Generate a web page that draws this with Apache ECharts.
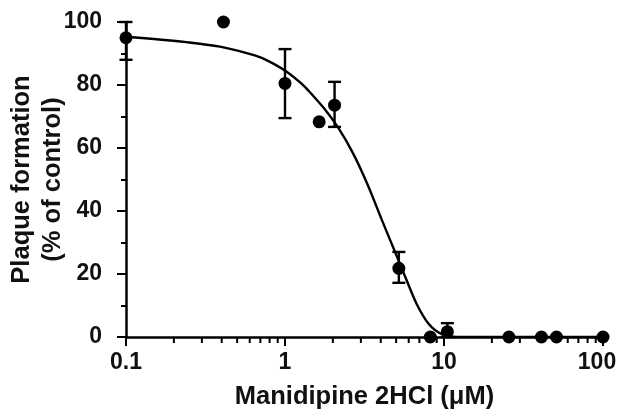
<!DOCTYPE html>
<html>
<head>
<meta charset="utf-8">
<script src="https://cdn.jsdelivr.net/npm/echarts@6/dist/echarts.min.js"></script>
<style>
  html, body { margin: 0; padding: 0; background: #fff; }
  #chart { width: 619px; height: 416px; }
</style>
</head>
<body>
<div id="chart"></div>
<script>
// measured points (concentration in uM, % of control)
const doseX = [0.1, 0.41, 1, 1.64, 2.05, 5.2, 8.2, 10.5, 25.6, 41, 51, 100]
const plaqueY = [95, 100, 80.5, 68.3, 73.6, 21.8, 0, 1.7, 0, 0, 0, 0]

// error bars: only points that have one
const errX = [0.1, 1, 2.05, 5.2, 10.5]
const errLow = [88, 69.5, 66.7, 17.2, 0]
const errHigh = [100, 91.4, 81, 27, 4.4]

// fitted curve
const fitX = [0.1, 0.15, 0.24, 0.39, 0.53, 0.68, 0.85, 1.04, 1.26, 1.4, 1.76, 2.17, 2.66, 3.3, 4.04, 4.83, 5.82, 6.73, 8, 9.6, 12, 100]
const fitY = [95.3, 94.6, 93.6, 92.2, 90.6, 89, 86.7, 84, 80.6, 78.3, 72.6, 66.3, 58.6, 48.5, 37.5, 28, 18, 10.5, 4.2, 1, 0, 0]

// log minor ticks between the decades
const minorTicksX = [0.2, 0.3, 0.4, 0.5, 0.6, 0.7, 0.8, 0.9, 2, 3, 4, 5, 6, 7, 8, 9, 20, 30, 40, 50, 60, 70, 80, 90]

const font = 'Liberation Sans, Arial, sans-serif'

let chartInstance = echarts.init(document.getElementById('chart'))

const option = {
  backgroundColor: '#fff',
  animation: false,
  grid: {
    left: 126,
    right: 16,
    top: 22,
    bottom: 79,
    containLabel: false,
    outerBoundsMode: 'none'
  },
  xAxis: {
    type: 'log',
    logBase: 10,
    min: 0.1,
    max: 100,
    name: 'Manidipine 2HCl (μM)',
    nameLocation: 'middle',
    nameGap: 47,
    nameTextStyle: {
      fontFamily: font,
      fontWeight: 'bold',
      fontSize: 25.5,
      color: '#111'
    },
    axisLine: {
      onZero: false,
      lineStyle: {color: '#000', width: 2.5}
    },
    axisTick: {
      length: 9,
      lineStyle: {color: '#000', width: 2}
    },
    axisLabel: {
      margin: 14,
      fontFamily: font,
      fontWeight: 'bold',
      fontSize: 23,
      color: '#111',
      // last label sits a bit left so it is not cut by the edge
      formatter: v => v === 100 ? '{r|100}' : String(v),
      rich: {
        r: {
          fontFamily: font,
          fontWeight: 'bold',
          fontSize: 23,
          color: '#111',
          padding: [0, 12, 0, 0]
        }
      }
    },
    splitLine: {show: false}
  },
  yAxis: {
    type: 'value',
    min: 0,
    max: 100,
    interval: 20,
    name: 'Plaque formation\n(% of control)',
    nameLocation: 'middle',
    nameGap: 58,
    nameMoveOverlap: false,
    nameTextStyle: {
      fontFamily: font,
      fontWeight: 'bold',
      fontSize: 25.5,
      lineHeight: 31,
      color: '#111'
    },
    axisLine: {
      show: true,
      onZero: false,
      lineStyle: {color: '#000', width: 2.5}
    },
    axisTick: {
      show: true,
      length: 9,
      lineStyle: {color: '#000', width: 2}
    },
    minorTick: {
      show: true,
      splitNumber: 2,
      length: 5,
      lineStyle: {color: '#000', width: 2}
    },
    axisLabel: {
      margin: 24,
      fontFamily: font,
      fontWeight: 'bold',
      fontSize: 23,
      color: '#111'
    },
    splitLine: {show: false}
  },
  series: [
    {
      // short ticks under the x axis at 2..9 of every decade
      name: 'minorTicks',
      type: 'custom',
      clip: false,
      silent: true,
      data: minorTicksX.map(x => [x, 0]),
      renderItem: (params, api) => {
        const p = api.coord([api.value(0), api.value(1)])
        return {
          type: 'line',
          shape: {x1: p[0], y1: p[1], x2: p[0], y2: p[1] + 6},
          style: {stroke: '#000', lineWidth: 2}
        }
      },
      z: 1
    },
    {
      name: 'fit',
      type: 'line',
      smooth: 0.3,
      symbol: 'none',
      lineStyle: {color: '#000', width: 2.4},
      data: fitX.map((x, i) => [x, fitY[i]]),
      z: 2
    },
    {
      name: 'error',
      type: 'custom',
      data: errX.map((x, i) => [x, errLow[i], errHigh[i]]),
      renderItem: (params, api) => {
        const lo = api.coord([api.value(0), api.value(1)])
        const hi = api.coord([api.value(0), api.value(2)])
        const half = 6.5
        const style = {stroke: '#000', lineWidth: 2.4}
        return {
          type: 'group',
          children: [
            {type: 'line', shape: {x1: lo[0], y1: lo[1], x2: hi[0], y2: hi[1]}, style: style},
            {type: 'line', shape: {x1: hi[0] - half, y1: hi[1], x2: hi[0] + half, y2: hi[1]}, style: style},
            {type: 'line', shape: {x1: lo[0] - half, y1: lo[1], x2: lo[0] + half, y2: lo[1]}, style: style}
          ]
        }
      },
      z: 3
    },
    {
      name: 'data',
      type: 'scatter',
      symbol: 'circle',
      symbolSize: 13,
      itemStyle: {color: '#000', opacity: 1},
      data: doseX.map((x, i) => [x, plaqueY[i]]),
      z: 4
    }
  ]
}

chartInstance.setOption(option)
</script>
</body>
</html>
